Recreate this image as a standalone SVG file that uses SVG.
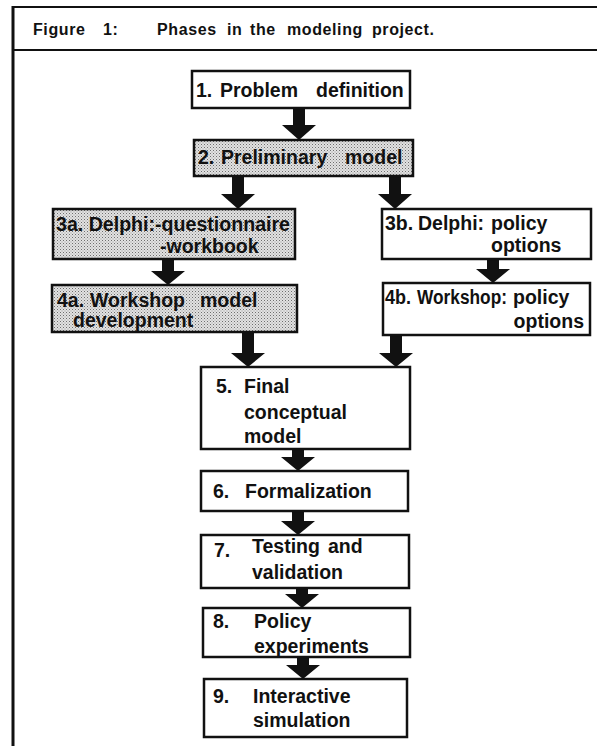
<svg xmlns="http://www.w3.org/2000/svg" width="597" height="746" viewBox="0 0 597 746">
<style>
  text { font-family: "Liberation Sans", Arial, Helvetica, sans-serif; font-weight: bold; fill: #111; }
  .t { font-size: 19.5px; }
  .title { font-size: 16px; letter-spacing: 0.6px; }
  .box { fill: #fff; stroke: #111; stroke-width: 2.5; }
  .shaded { fill: url(#stipple); stroke: #111; stroke-width: 2.5; }
  .arrow { fill: #111; stroke: none; }
  .frame { stroke: #111; fill: none; }
</style>
<defs>
  <pattern id="stipple" width="3" height="3" patternUnits="userSpaceOnUse">
    <rect width="3" height="3" fill="#e2e2e2"/>
    <rect x="0" y="0" width="1" height="1" fill="#6e6e6e"/>
    <rect x="1.5" y="1.5" width="1" height="1" fill="#999"/>
  </pattern>
</defs>
<rect width="597" height="746" fill="#fff"/>
<g id="frame">
  <line class="frame" x1="13" y1="7" x2="597" y2="7" stroke-width="2"/>
  <line class="frame" x1="13" y1="6" x2="13" y2="746" stroke-width="3"/>
  <line class="frame" x1="13" y1="50" x2="597" y2="50" stroke-width="2"/>
  <text class="title" y="35"><tspan x="33">Figure</tspan><tspan x="103">1:</tspan><tspan x="157">Phases</tspan><tspan x="227">in</tspan><tspan x="250">the</tspan><tspan x="287">modeling</tspan><tspan x="372">project.</tspan></text>
</g>
<g id="connectors">
  <polygon class="arrow" points="293,108 305,108 305,125 316,125 299,140 282,125 293,125"/>
  <polygon class="arrow" points="232,176 244,176 244,194 255,194 238,209 221,194 232,194"/>
  <polygon class="arrow" points="389,176 401,176 401,194 412,194 395,209 378,194 389,194"/>
  <polygon class="arrow" points="162,259 174,259 174,271 185,271 168,285 151,271 162,271"/>
  <polygon class="arrow" points="487,259 499,259 499,269 510,269 493,283 476,269 487,269"/>
  <polygon class="arrow" points="242,332 254,332 254,353 265,353 248,367 231,353 242,353"/>
  <polygon class="arrow" points="390,335 402,335 402,353 413,353 396,367 379,353 390,353"/>
  <polygon class="arrow" points="292,449 304,449 304,457 315,457 298,471 281,457 292,457"/>
  <polygon class="arrow" points="292,511 304,511 304,521 315,521 298,535 281,521 292,521"/>
  <polygon class="arrow" points="296,588 308,588 308,594 319,594 302,608 285,594 296,594"/>
  <polygon class="arrow" points="297,657 309,657 309,665 320,665 303,679 286,665 297,665"/>
</g>
<g id="n1">
  <rect class="box" x="192" y="71" width="218" height="37"/>
  <text class="t" y="97"><tspan x="196">1.</tspan><tspan x="220">Problem</tspan><tspan x="316">definition</tspan></text>
</g>
<g id="n2">
  <rect class="shaded" x="194" y="140" width="219" height="36"/>
  <text class="t" y="164"><tspan x="198">2.</tspan><tspan x="221">Preliminary</tspan><tspan x="345">model</tspan></text>
</g>
<g id="n3a">
  <rect class="shaded" x="53" y="209" width="242" height="50"/>
  <text class="t" x="56" y="231" textLength="234" lengthAdjust="spacingAndGlyphs">3a. Delphi:-questionnaire</text>
  <text class="t" x="160" y="253">-workbook</text>
</g>
<g id="n3b">
  <rect class="box" x="382" y="209" width="209" height="50"/>
  <text class="t" y="230"><tspan x="385">3b.</tspan><tspan x="418">Delphi:</tspan><tspan x="491">policy</tspan></text>
  <text class="t" x="491" y="252">options</text>
</g>
<g id="n4a">
  <rect class="shaded" x="52" y="285" width="245" height="47"/>
  <text class="t" y="307"><tspan x="57">4a.</tspan><tspan x="90">Workshop</tspan><tspan x="200">model</tspan></text>
  <text class="t" x="73" y="327">development</text>
</g>
<g id="n4b">
  <rect class="box" x="383" y="283" width="207" height="52"/>
  <text class="t" x="385" y="304" textLength="26" lengthAdjust="spacingAndGlyphs">4b.</text>
  <text class="t" x="417" y="304" textLength="90" lengthAdjust="spacingAndGlyphs">Workshop:</text>
  <text class="t" x="513" y="304">policy</text>
  <text class="t" x="584" y="328" text-anchor="end">options</text>
</g>
<g id="n5">
  <rect class="box" x="201" y="367" width="209" height="82"/>
  <text class="t" x="216" y="393">5.</text>
  <text class="t" x="244" y="393">Final</text>
  <text class="t" x="244" y="419">conceptual</text>
  <text class="t" x="244" y="443">model</text>
</g>
<g id="n6">
  <rect class="box" x="201" y="471" width="207" height="40"/>
  <text class="t" y="498"><tspan x="213">6.</tspan><tspan x="245">Formalization</tspan></text>
</g>
<g id="n7">
  <rect class="box" x="201" y="535" width="208" height="53"/>
  <text class="t" x="214" y="557">7.</text>
  <text class="t" y="553"><tspan x="252">Testing</tspan><tspan x="328">and</tspan></text>
  <text class="t" x="252" y="579">validation</text>
</g>
<g id="n8">
  <rect class="box" x="203" y="608" width="207" height="49"/>
  <text class="t" x="213" y="628">8.</text>
  <text class="t" x="254" y="628">Policy</text>
  <text class="t" x="254" y="653">experiments</text>
</g>
<g id="n9">
  <rect class="box" x="204" y="679" width="203" height="58"/>
  <text class="t" x="213" y="703">9.</text>
  <text class="t" x="253" y="703">Interactive</text>
  <text class="t" x="253" y="727">simulation</text>
</g>
</svg>
